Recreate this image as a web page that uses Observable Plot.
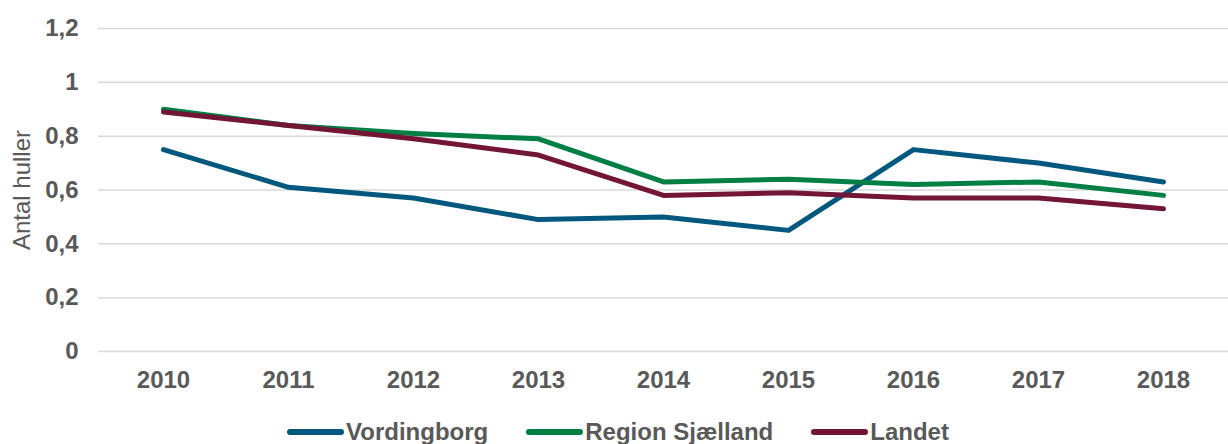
<!DOCTYPE html>
<html>
<head>
<meta charset="utf-8">
<script src="https://cdn.jsdelivr.net/npm/d3@7"></script>
<script src="https://cdn.jsdelivr.net/npm/@observablehq/plot@0.6"></script>
<style>
  html, body { margin: 0; padding: 0; background: #fff; }
  body { width: 1228px; height: 444px; position: relative; overflow: hidden; font-family: "Liberation Sans", Arial, sans-serif; }
  #chart svg { display: block; }
  .legend { position: absolute; top: 418px; left: 0; width: 1236px; display: flex; justify-content: center; align-items: center; line-height: 28px; font-weight: bold; font-size: 24px; color: #595959; }
  .item { display: flex; align-items: center; margin: 0 19px; }
  .sw { width: 57px; height: 6px; border-radius: 3px; margin-right: 2px; }
</style>
</head>
<body>
<div id="chart"></div>
<div class="legend" id="legend"></div>
<script>
const years = ["2010","2011","2012","2013","2014","2015","2016","2017","2018"];
const seriesNames = ["Vordingborg", "Region Sjælland", "Landet"];
const vordingborg = [0.75, 0.61, 0.57, 0.49, 0.50, 0.45, 0.75, 0.70, 0.63];
const regionSjaelland = [0.90, 0.84, 0.81, 0.79, 0.63, 0.64, 0.62, 0.63, 0.58];
const landet = [0.89, 0.84, 0.79, 0.73, 0.58, 0.59, 0.57, 0.57, 0.53];
const colors = ["#00587f", "#007f45", "#731535"];
const yTicks = [0, 0.2, 0.4, 0.6, 0.8, 1.0, 1.2];
const yLabel = "Antal huller";

const valuesBySeries = [vordingborg, regionSjaelland, landet];
const data = [];
seriesNames.forEach((s, i) => years.forEach((y, j) => data.push({series: s, year: y, value: valuesBySeries[i][j]})));

const fmt = v => String(+v.toFixed(1)).replace(".", ",");

const plot = Plot.plot({
  width: 1228,
  height: 400,
  marginLeft: 98,
  marginRight: 0,
  marginTop: 28,
  marginBottom: 49,
  style: { fontFamily: "'Liberation Sans', Arial, sans-serif", background: "#fff", overflow: "visible" },
  x: { type: "point", domain: years, padding: 0.5 },
  y: { domain: [0, 1.2] },
  color: { domain: seriesNames, range: colors },
  marks: [
    Plot.ruleY(yTicks, { stroke: "#d9d9d9", strokeWidth: 1.5 }),
    Plot.axisY(yTicks, { tickSize: 0, tickPadding: 20, tickFormat: fmt, fontSize: 24, fontWeight: "bold", fill: "#595959", label: null }),
    Plot.axisX({ tickSize: 0, tickPadding: 19, fontSize: 24, fontWeight: "bold", fill: "#595959", label: null }),
    Plot.text([yLabel], { frameAnchor: "left", textAnchor: "middle", dx: -76, rotate: -90, fontSize: 24, fill: "#595959", text: d => d }),
    Plot.line(data, { x: "year", y: "value", z: "series", stroke: "series", strokeWidth: 5, strokeLinecap: "round", strokeLinejoin: "round" })
  ]
});
document.getElementById("chart").appendChild(plot);

const legend = document.getElementById("legend");
seriesNames.forEach((s, i) => {
  const item = document.createElement("div");
  item.className = "item";
  const sw = document.createElement("div");
  sw.className = "sw";
  sw.style.background = colors[i];
  const t = document.createElement("span");
  t.textContent = s;
  item.appendChild(sw);
  item.appendChild(t);
  legend.appendChild(item);
});
</script>
</body>
</html>
